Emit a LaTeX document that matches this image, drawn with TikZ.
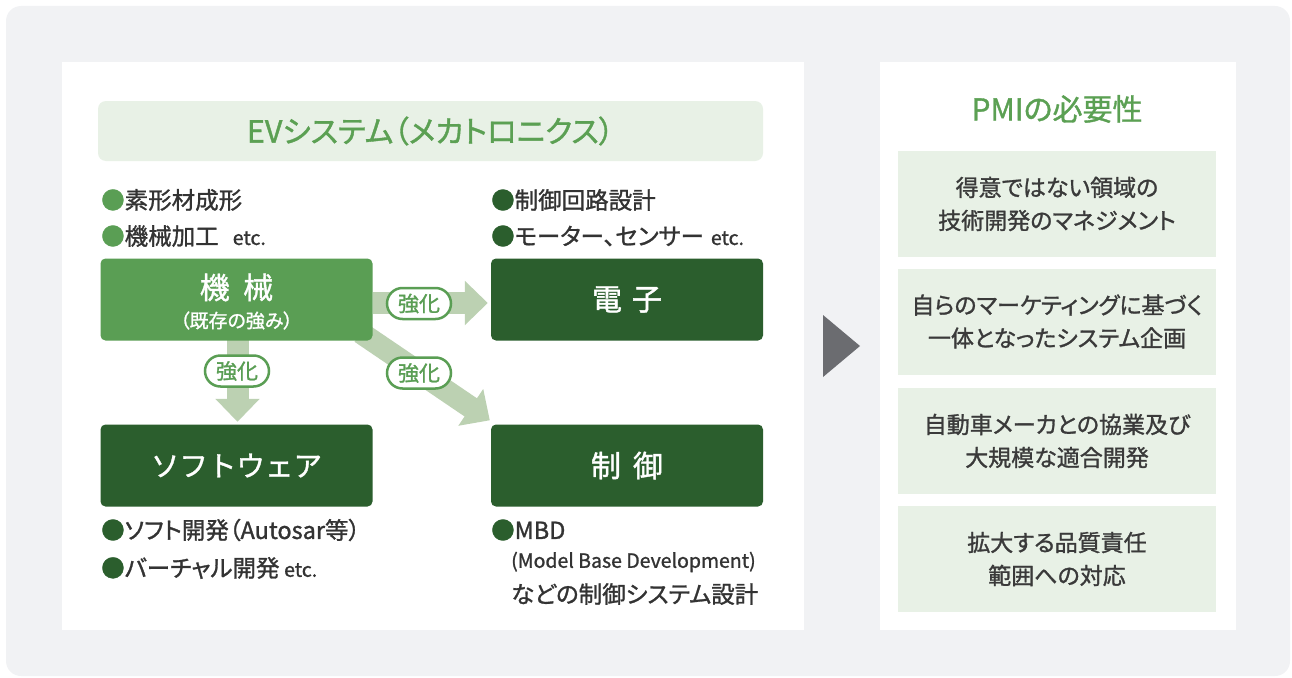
\documentclass[tikz,border=0pt]{standalone}
\usepackage{fontspec}
\setmainfont{Noto Sans CJK JP}[RawFeature=+palt, FakeBold=1.2]
\newfontfamily\nopalt{Noto Sans CJK JP}[FakeBold=1.2]
\usetikzlibrary{arrows.meta,shapes.misc,calc}
\definecolor{bggray}{HTML}{F1F2F4}
\definecolor{lgreen}{HTML}{5A9E54}
\definecolor{dgreen}{HTML}{2B5E2D}
\definecolor{arrowc}{HTML}{BCD1B2}
\definecolor{tfill}{HTML}{E8F1E6}
\definecolor{ttext}{HTML}{5BA053}
\definecolor{tgray}{HTML}{333333}
\definecolor{rgray}{HTML}{3A3A3A}
\definecolor{trigray}{HTML}{6B6C70}
\pgfdeclarelayer{back}
\pgfdeclarelayer{mid}
\pgfsetlayers{back,mid,main}
\begin{document}
\begin{tikzpicture}[x=1pt,y=-1pt,
  gbox/.style={rounded corners=5pt, minimum width=272pt, minimum height=82pt, inner sep=0pt, text=white, font=\fontsize{30}{32}\selectfont},
  bul/.style={anchor=west, inner sep=0pt, text=tgray, font=\fontsize{23.5}{26}\selectfont},
  pill/.style={rounded rectangle, draw=lgreen, line width=2.5pt, fill=white, minimum width=64pt, minimum height=31pt, inner sep=0pt, text=lgreen, font=\fontsize{21}{23}\selectfont},
  bigarrow/.style={arrowc, line width=22pt, -{Triangle[width=43pt,length=23pt]}},
  rbox/.style={fill=tfill, minimum width=318pt, minimum height=106pt, inner sep=0pt, align=center, text=rgray, font=\fontsize{23}{33}\selectfont},
  titlebox/.style={fill=tfill, rounded corners=8pt, minimum width=665pt, minimum height=60pt, inner sep=0pt, text=ttext, font=\fontsize{30.5}{32}\selectfont}
]
\useasboundingbox (0,0) rectangle (1292,677);
\begin{pgfonlayer}{back}
\fill[bggray, rounded corners=15pt] (6,6) rectangle (1290,676);
\fill[white] (62,62) rectangle (804,630);
\fill[white] (880,62) rectangle (1236,630);
\end{pgfonlayer}

% title
\node[titlebox] (ev) at (430.5,131) {EVシステム（メカトロニクス）};

% boxes
\node[gbox, fill=lgreen] (kikai) at (236.5,299.5) {};
\node[gbox, fill=dgreen] (denshi) at (627,299.5) {電\hspace{0.33em}子};
\node[gbox, fill=dgreen, font=\nopalt\fontsize{28.5}{32}\selectfont] (soft) at (236.5,465.5) {ソフトウェア};
\node[gbox, fill=dgreen] (seigyo) at (627,465.5) {制\hspace{0.4em}御};
\node[text=white, inner sep=0pt, font=\fontsize{30}{32}\selectfont] (kikaiT) at ($(kikai)+(0,-12)$) {機\hspace{0.45em}械};
\node[text=white, inner sep=0pt, font=\fontsize{19}{21}\selectfont] (kikaiS) at ($(kikai)+(0,21)$) {（既存の強み）};

% arrows
\begin{pgfonlayer}{mid}
\draw[bigarrow] ([yshift=-3.5pt]kikai.east) -- ($(denshi.west)+(-3,3.5)$);
\draw[bigarrow] ($(kikai.south)+(1,-2)$) -- ($(soft.north)+(1,-2.5)$);
\draw[bigarrow] ($(kikai.south east)+(-12,-8)$) -- ($(seigyo.north west)+(-1,-4)$);
\end{pgfonlayer}
\node[pill] (p1) at (419,303.5) {強化};
\node[pill] (p2) at (419,373) {強化};
\node[pill] (p3) at (237,371) {強化};

% bullets
\node[bul] (b1) at (101,200) {\textcolor{lgreen}{●}素形材成形};
\node[bul] (b2) at (101,236) {\textcolor{lgreen}{●}機械加工\hspace{0.6em}{\fontsize{19.5}{22}\selectfont etc.}};
\node[bul] (b3) at (491,200) {\textcolor{dgreen}{●}制御回路設計};
\node[bul] (b4) at (491,236) {\textcolor{dgreen}{●}モーター、センサー\hspace{0.3em}{\fontsize{19.5}{22}\selectfont etc.}};
\node[bul] (b5) at (101,530) {\textcolor{dgreen}{●}ソフト開発（Autosar等）};
\node[bul] (b6) at (101,568) {\textcolor{dgreen}{●}バーチャル開発\hspace{0.2em}{\fontsize{19.5}{22}\selectfont etc.}};
\node[bul] (b7) at (491,530) {\textcolor{dgreen}{●}MBD};
\node[bul, font=\fontsize{19.5}{22}\selectfont] (b8) at (511,562) {(Model Base Development)};
\node[bul] (b9) at (511,594) {などの制御システム設計};

% arrow between panels
\fill[trigray] (823,315) -- (860,346) -- (823,377) -- cycle;

% right panel
\node[text=ttext, inner sep=0pt, font=\fontsize{30}{32}\selectfont] (pmi) at (1057,109) {PMIの必要性};
\node[rbox] (r1) at (1057,204) {得意ではない領域の\\技術開発のマネジメント};
\node[rbox] (r2) at (1057,321.5) {自らのマーケティングに基づく\\一体となったシステム企画};
\node[rbox] (r3) at (1057,441) {自動車メーカとの協業及び\\大規模な適合開発};
\node[rbox] (r4) at (1057,559) {拡大する品質責任\\範囲への対応};
\end{tikzpicture}
\end{document}
